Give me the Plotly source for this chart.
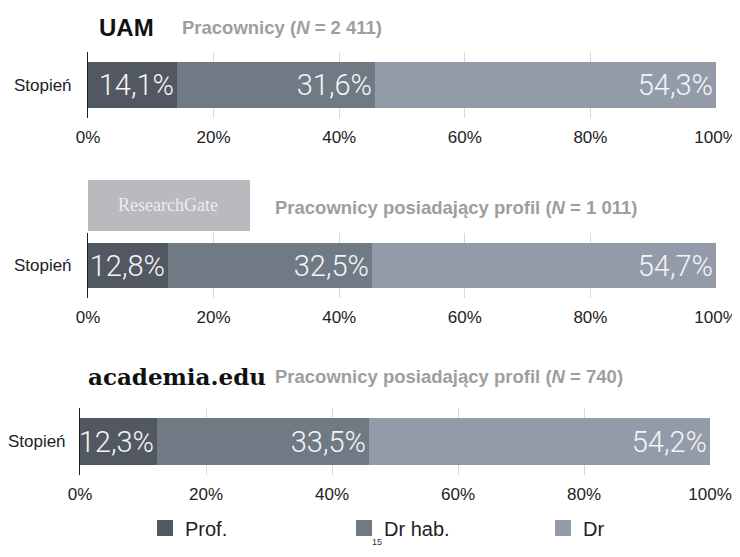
import plotly.graph_objects as go

# data
categories = ["Prof.", "Dr hab.", "Dr"]
row_label = "Stopień"
uam = [14.1, 31.6, 54.3]
researchgate = [12.8, 32.5, 54.7]
academia = [12.3, 33.5, 54.2]
tick_vals = [0, 20, 40, 60, 80, 100]
tick_text = ["0%", "20%", "40%", "60%", "80%", "100%"]

colors = ["#525861", "#707a85", "#939ba9"]
# the page body keeps its 8px margin, so the figure is a bit smaller than the window
OFF = 8
W, H = 740 - OFF, 557 - 2 * OFF


def px_x(x):
    return (x - OFF) / W


def px_y(y):
    return 1 - (y - OFF) / H


panels = [
    # values, axis suffix, x domain (px), y domain (px top, bottom), label standoff
    (uam, "", (88, 716), (52, 118), 12),
    (researchgate, "2", (88, 716), (233, 298), 12),
    (academia, "3", (80, 710), (408, 475), 10),
]

fig = go.Figure()

for p, (vals, ax, xd, yd, sto) in enumerate(panels):
    for cat, v, col in zip(categories, vals, colors):
        fig.add_trace(go.Bar(
            y=[row_label], x=[v], orientation="h",
            name=cat, legendgroup=cat, showlegend=False,
            marker=dict(color=col, line=dict(width=0)),
            width=0.69,
            text=[f"{v:.1f}%".replace(".", ",")],
            textposition="inside", insidetextanchor="end",
            constraintext="none",
            insidetextfont=dict(family="Roboto", size=29, color="#f4f5f7", weight=300),
            xaxis="x" + ax, yaxis="y" + ax,
            hovertemplate=cat + ": %{x:.1f}%<extra></extra>",
        ))
    xa = dict(
        domain=[px_x(xd[0]), px_x(xd[1])], range=[0, 100],
        tickvals=tick_vals, ticktext=tick_text,
        showgrid=True, gridcolor="#d9d9d9", gridwidth=1, zeroline=False,
        showline=False, ticks="", ticklabelstandoff=7, automargin=False,
        ticklabeloverflow="allow",
        tickfont=dict(family="Liberation Sans", size=17, color="#222"),
        anchor="y" + ax, fixedrange=True,
    )
    ya = dict(
        domain=[px_y(yd[1]), px_y(yd[0])], range=[-0.5, 0.5],
        showline=True, linecolor="#222", linewidth=1, showgrid=False,
        zeroline=False, ticks="", ticklabelstandoff=sto, automargin=False,
        tickfont=dict(family="Liberation Sans", size=17, color="#222"),
        anchor="x" + ax, fixedrange=True,
    )
    fig.layout["xaxis" + ax] = xa
    fig.layout["yaxis" + ax] = ya

# legend entries with bigger square swatches than the bar legend gives
for cat, col in zip(categories, colors):
    fig.add_trace(go.Scatter(
        x=[None], y=[None], mode="markers", name=cat, legendgroup=cat,
        marker=dict(symbol="square", size=19, color=col),
        xaxis="x3", yaxis="y3", hoverinfo="skip",
    ))

sub_font = dict(family="Liberation Sans", size=18.5, color="#9e9e9e", weight="bold")
annotations = [
    dict(x=px_x(97), y=px_y(27), text="<b>UAM</b>",
         font=dict(family="Liberation Sans", size=24, color="#111")),
    dict(x=px_x(180), y=px_y(27), text="Pracownicy (<i>N</i> = 2 411)", font=sub_font),
    dict(x=px_x(168), y=px_y(205), xanchor="center", text="ResearchGate",
         font=dict(family="Liberation Serif", size=18, color="#ececec")),
    dict(x=px_x(273), y=px_y(207), text="Pracownicy posiadający profil (<i>N</i> = 1 011)",
         font=sub_font),
    dict(x=px_x(86), y=px_y(376), text="<b>academia.edu</b>",
         font=dict(family="DejaVu Serif", size=23, color="#111")),
    dict(x=px_x(273), y=px_y(376), text="Pracownicy posiadający profil (<i>N</i> = 740)",
         font=sub_font),
    dict(x=px_x(377), y=px_y(549), xanchor="center", yanchor="bottom", text="15",
         font=dict(family="Liberation Sans", size=9, color="#333")),
]
for a in annotations:
    a.setdefault("xanchor", "left")
    a.setdefault("yanchor", "middle")
    a.update(xref="paper", yref="paper", showarrow=False)

fig.update_layout(
    width=W, height=H,
    barmode="stack",
    bargap=0,
    margin=dict(l=0, r=0, t=0, b=0, autoexpand=False),
    paper_bgcolor="white",
    plot_bgcolor="white",
    annotations=annotations,
    shapes=[dict(type="rect", xref="paper", yref="paper",
                 x0=px_x(88), x1=px_x(250), y0=px_y(231), y1=px_y(180),
                 fillcolor="#b9babd", line=dict(width=0), layer="below")],
    legend=dict(orientation="h", x=px_x(145), y=px_y(528), xanchor="left", yanchor="middle",
                entrywidth=154, entrywidthmode="pixels", itemsizing="trace",
                font=dict(family="Liberation Sans", size=20, color="#222"),
                itemwidth=30, bgcolor="rgba(0,0,0,0)"),
    showlegend=True,
)

fig.write_html("out.html")
